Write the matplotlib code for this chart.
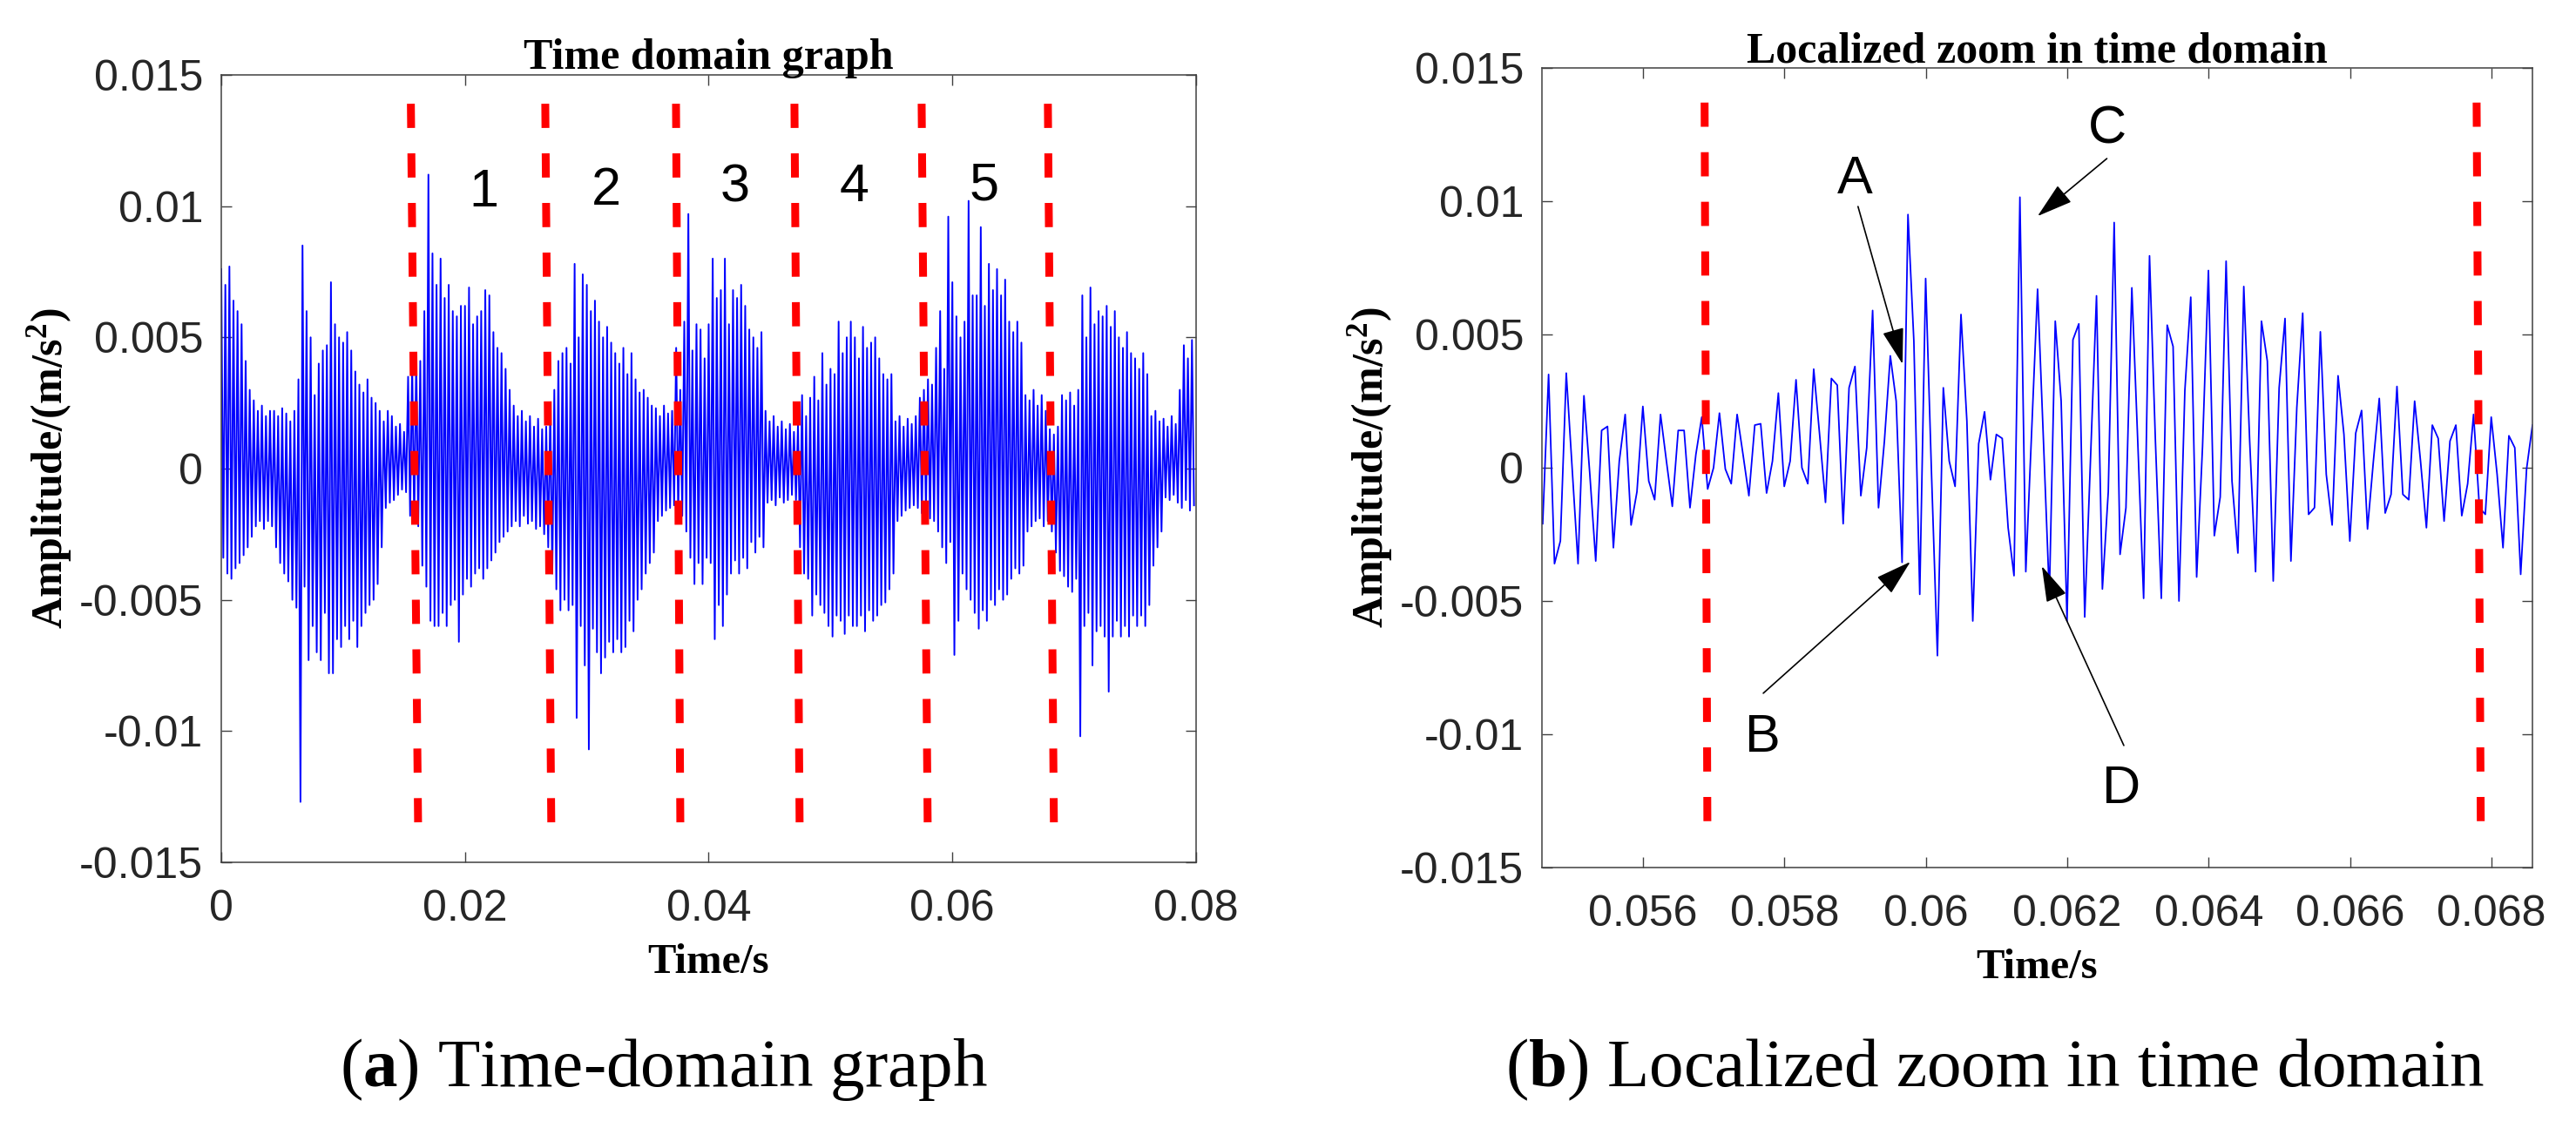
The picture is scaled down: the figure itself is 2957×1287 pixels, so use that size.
import numpy as np
import matplotlib.pyplot as plt

plt.rcParams['axes.unicode_minus'] = False
plt.rcParams['lines.scale_dashes'] = False
plt.rcParams['mathtext.fontset'] = 'custom'
plt.rcParams['mathtext.rm'] = 'Liberation Serif'
plt.rcParams['mathtext.it'] = 'Liberation Serif:italic'
plt.rcParams['mathtext.bf'] = 'Liberation Serif:bold'

# (a) full record, 0 - 0.08 s: positive / negative swing of each cycle, in 1e-3 m/s^2
full_span = 0.08
full_hi = [
    7.6, 7.0, 7.7, 6.4, 6.0, 5.5, 4.1, 3.0, 2.6, 2.2,
    2.4, 2.0, 2.2, 2.2, 2.0, 2.3, 2.1, 1.8, 2.2, 3.4,
    8.5, 6.0, 5.0, 2.8, 4.0, 4.5, 4.7, 7.1, 5.5, 5.0,
    4.8, 5.2, 4.5, 3.7, 3.2, 2.9, 3.4, 2.7, 2.5, 2.2,
    1.8, 2.2, 2.0, 1.6, 1.7, 1.4, 3.5, 4.0, 4.2, 4.1,
    6.0, 11.2, 8.2, 7.0, 8.0, 6.5, 7.0, 6.0, 5.8, 6.2,
    6.2, 6.9, 5.5, 5.8, 6.0, 6.8, 6.6, 5.2, 4.6, 4.4,
    3.8, 3.0, 2.4, 2.0, 2.2, 1.8, 2.0, 1.6, 1.9, 1.5,
    1.6, 2.2, 3.0, 4.1, 4.4, 4.6, 4.0, 7.8, 5.0, 7.4,
    7.0, 6.0, 6.4, 5.6, 5.0, 5.4, 4.8, 4.4, 4.0, 4.6,
    3.6, 4.4, 3.4, 2.9, 3.0, 2.7, 2.4, 2.3, 2.0, 2.4,
    2.1, 2.2, 4.6, 3.0, 5.6, 9.7, 4.5, 5.5, 5.3, 4.2,
    5.5, 8.0, 6.5, 6.8, 8.0, 5.5, 6.8, 6.5, 7.0, 6.2,
    5.3, 5.0, 4.6, 5.2, 2.2, 1.8, 2.0, 1.6, 1.8, 1.5,
    1.7, 1.4, 1.7, 2.8, 2.0, 2.7, 3.5, 2.6, 4.4, 3.2,
    3.8, 3.6, 5.6, 4.4, 5.0, 5.6, 5.0, 4.2, 5.4, 4.6,
    4.8, 5.0, 4.2, 3.6, 3.4, 3.6, 1.8, 2.0, 1.6, 1.9,
    1.7, 2.0, 2.7, 3.0, 3.4, 3.2, 4.6, 6.0, 3.8, 9.6,
    7.1, 5.8, 5.0, 5.6, 10.2, 6.6, 6.6, 9.2, 6.2, 7.8,
    6.8, 7.6, 6.6, 7.2, 5.6, 5.2, 5.6, 4.8, 2.8, 2.6,
    3.0, 2.4, 2.8, 2.2, 1.5, 1.3, 1.6, 2.8, 2.6, 2.9,
    2.4, 3.0, 6.6, 5.0, 6.9, 5.5, 6.0, 5.8, 6.2, 5.4,
    6.0, 5.0, 4.6, 5.2, 4.4, 4.2, 3.8, 4.4, 3.6, 2.0,
    2.2, 1.8, 1.9, 1.6, 2.0, 1.7, 3.0, 4.7, 4.2, 4.9,
]
full_lo = [
    -3.4, -4.0, -4.2, -3.8, -3.6, -3.3, -3.0, -2.6, -2.2, -2.0,
    -2.3, -2.0, -2.2, -3.0, -3.6, -4.0, -4.3, -5.0, -5.3, -12.7,
    -4.5, -7.3, -6.0, -7.0, -7.3, -5.5, -7.8, -7.8, -6.5, -6.8,
    -6.0, -6.5, -5.8, -6.8, -6.0, -5.5, -5.2, -5.0, -4.4, -3.0,
    -1.5, -1.3, -1.2, -1.0, -0.8, -0.9, -1.8, -2.0, -2.2, -3.7,
    -4.5, -5.8, -6.0, -6.0, -5.5, -6.0, -5.2, -5.0, -6.6, -4.8,
    -4.2, -4.5, -4.0, -3.8, -4.2, -3.8, -3.5, -3.2, -2.8, -2.6,
    -2.4, -2.2, -2.0, -2.2, -1.8, -2.1, -2.0, -2.3, -2.2, -2.5,
    -3.0, -4.0, -4.6, -5.4, -5.0, -5.4, -5.2, -9.5, -6.0, -7.5,
    -10.7, -6.1, -7.0, -7.8, -7.2, -6.6, -7.0, -6.5, -7.0, -6.8,
    -5.8, -6.2, -5.0, -4.6, -4.0, -3.6, -3.2, -2.0, -1.8, -1.6,
    -1.5, -1.4, -1.7, -1.8, -2.4, -3.4, -4.4, -3.6, -4.4, -3.4,
    -3.6, -6.5, -5.2, -6.0, -4.8, -4.0, -3.5, -4.0, -3.4, -3.8,
    -2.8, -3.2, -2.6, -3.0, -1.3, -1.2, -1.4, -1.1, -1.3, -1.2,
    -1.0, -1.2, -3.0, -4.0, -4.2, -5.6, -4.8, -5.2, -5.5, -6.0,
    -6.4, -5.6, -5.8, -6.3, -5.6, -6.0, -6.0, -5.6, -6.2, -5.4,
    -5.8, -5.6, -5.2, -5.1, -4.6, -4.0, -2.0, -1.8, -1.6, -1.5,
    -1.4, -1.5, -1.7, -1.6, -1.9, -2.0, -2.4, -3.0, -3.6, -2.8,
    -7.1, -5.8, -4.0, -4.6, -5.0, -5.5, -6.1, -5.4, -5.8, -5.0,
    -5.2, -4.6, -5.0, -4.8, -4.2, -3.8, -4.0, -3.7, -2.4, -2.2,
    -2.0, -1.9, -2.2, -2.0, -2.4, -3.2, -3.9, -4.1, -4.5, -4.7,
    -4.2, -10.2, -6.0, -5.5, -7.5, -6.2, -6.0, -6.4, -8.5, -6.4,
    -5.8, -6.4, -6.0, -6.4, -5.6, -6.0, -5.6, -6.0, -5.2, -3.7,
    -3.0, -2.4, -1.1, -1.2, -1.0, -1.3, -1.5, -1.2, -1.6, -1.4,
]

# (b) zoomed window, sampled at 12 kHz, in 1e-3 m/s^2
zoom_t0 = 0.05458
zoom_fs = 12000
zoom_vals = [
    -2.1, 3.5, -3.6, -2.75, 3.55, 0.0, -3.6, 2.7, -0.25, -3.5,
    1.4, 1.55, -3.0, 0.25, 2.0, -2.15, -0.9, 2.3, -0.5, -1.2,
    2.0, 0.25, -1.45, 1.4, 1.4, -1.5, 0.5, 1.9, -0.8, 0.0,
    2.05, -0.05, -0.6, 2.0, 0.5, -1.05, 1.6, 1.65, -0.95, 0.25,
    2.8, -0.7, 0.25, 3.3, 0.0, -0.6, 3.7, 1.25, -1.3, 3.35,
    3.1, -2.1, 3.0, 3.8, -1.05, 0.75, 5.9, -1.5, 1.0, 4.2,
    2.5, -3.55, 9.5, 4.75, -4.75, 7.1, -0.25, -7.05, 3.0, 0.25,
    -0.7, 5.75, 1.75, -5.75, 0.9, 2.1, -0.45, 1.25, 1.1, -2.25,
    -4.05, 10.15, -3.9, 1.4, 6.7, 1.0, -4.8, 5.5, 2.5, -5.75,
    4.8, 5.4, -5.6, 0.4, 6.45, -4.55, -0.9, 9.2, -3.25, -1.5,
    6.75, 1.0, -4.9, 7.95, 1.0, -4.9, 5.35, 4.55, -5.0, 2.9,
    6.4, -4.1, 0.8, 7.4, -2.55, -1.1, 7.75, -0.5, -3.2, 6.8,
    1.0, -3.9, 5.5, 4.0, -4.25, 3.0, 5.6, -3.5, 2.25, 5.8,
    -1.75, -1.5, 5.1, -0.25, -2.15, 3.45, 1.25, -2.75, 1.3, 2.15,
    -2.3, 0.25, 2.6, -1.7, -1.0, 3.05, -1.0, -1.2, 2.5, 0.25,
    -2.25, 1.6, 1.1, -2.0, 1.0, 1.6, -1.8, -0.6, 2.0, -1.5,
    -1.75, 1.9, -0.25, -3.0, 1.2, 0.75, -4.0, -0.05, 1.6,
]

# red dashed separators (x at top end, x at bottom end)
cut_top = [0.01556, 0.02659, 0.03732, 0.04704, 0.05748, 0.06784]
cut_bot = [0.01616, 0.02709, 0.03768, 0.04747, 0.05798, 0.06834]
cut_ylim = (-0.0139, 0.0139)
seg_labels = ['1', '2', '3', '4', '5']
seg_x = [0.02152, 0.03160, 0.04218, 0.05198, 0.06263]
seg_y = [0.00998, 0.01005, 0.01018, 0.01018, 0.01025]

zoom_cut_top = [0.05687, 0.06779]
zoom_cut_bot = [0.05691, 0.06785]
zoom_cut_ylim = (-0.0139, 0.0137)

marks = ['A', 'B', 'C', 'D']
mark_x = [0.05900, 0.05769, 0.06256, 0.06277]
mark_y = [0.01029, -0.01065, 0.01216, -0.01258]
tail_x = [0.05904, 0.05770, 0.06256, 0.06280]
tail_y = [0.00980, -0.00846, 0.01160, -0.01042]
head_x = [0.05967, 0.05978, 0.06158, 0.06164]
head_y = [0.00389, -0.00353, 0.00944, -0.00369]

y_ticks = [-0.015, -0.01, -0.005, 0, 0.005, 0.01, 0.015]
y_ticklabels = ['-0.015', '-0.01', '-0.005', '0', '0.005', '0.01', '0.015']
full_xticks = [0, 0.02, 0.04, 0.06, 0.08]
full_xticklabels = ['0', '0.02', '0.04', '0.06', '0.08']
zoom_xticks = [0.056, 0.058, 0.060, 0.062, 0.064, 0.066, 0.068]
zoom_xticklabels = ['0.056', '0.058', '0.06', '0.062', '0.064', '0.066', '0.068']

SANS = 'Liberation Sans'
SERIF = 'Liberation Serif'
AX_COL = '#404040'


def style_axes(ax, title, xticks, xticklabels):
    ax.set_ylim(-0.015, 0.015)
    ax.set_yticks(y_ticks)
    ax.set_yticklabels(y_ticklabels, fontfamily=SANS, fontsize=36, color='#262626')
    ax.set_xticks(xticks)
    ax.set_xticklabels(xticklabels, fontfamily=SANS, fontsize=36, color='#262626')
    ax.tick_params(direction='in', top=True, right=True, length=8.5, width=1.0,
                   color=AX_COL)
    ax.tick_params(axis='y', pad=15)
    ax.tick_params(axis='x', pad=22)
    for sp in ax.spines.values():
        sp.set_color(AX_COL)
        sp.set_linewidth(1.1)
    ax.set_title(title, fontfamily=SERIF, fontweight='bold', fontsize=36, pad=5)
    ax.set_xlabel('Time/s', fontfamily=SERIF, fontweight='bold', fontsize=35,
                  labelpad=12)
    ax.set_ylabel(r'Amplitude/(m/s$^{\mathbf{2}}$)', fontfamily=SERIF,
                  fontweight='bold', fontsize=36, labelpad=4)


fig = plt.figure(figsize=(29.57, 12.87), dpi=100)
ax1 = fig.add_axes([0.0859, 0.2308, 0.3784, 0.7024])
ax2 = fig.add_axes([0.5986, 0.2261, 0.3845, 0.7133])

# (a) full signal
n = len(full_hi)
step = full_span / n
k = np.arange(n)
t_full = np.empty(2 * n)
a_full = np.empty(2 * n)
t_full[0::2] = k * step
t_full[1::2] = (k + 0.5) * step
a_full[0::2] = np.array(full_hi) * 1e-3
a_full[1::2] = np.array(full_lo) * 1e-3
ax1.plot(t_full, a_full, color='#0000ff', lw=1.4)
for xt, xb in zip(cut_top, cut_bot):
    ax1.plot([xt, xb], [cut_ylim[1], cut_ylim[0]], color='red', lw=6.5,
             dashes=(20, 21))
for lab, x, y in zip(seg_labels, seg_x, seg_y):
    ax1.text(x, y, lab, fontfamily=SANS, fontsize=44, ha='center', va='baseline')
ax1.set_xlim(0, full_span)
style_axes(ax1, 'Time domain graph', full_xticks, full_xticklabels)

# (b) localized zoom
t_zoom = zoom_t0 + np.arange(len(zoom_vals)) / zoom_fs
ax2.plot(t_zoom, np.array(zoom_vals) * 1e-3, color='#0000ff', lw=1.3)
for xt, xb in zip(zoom_cut_top, zoom_cut_bot):
    ax2.plot([xt, xb], [zoom_cut_ylim[1], zoom_cut_ylim[0]], color='red', lw=6.5,
             dashes=(20, 21))
for i, lab in enumerate(marks):
    ax2.text(mark_x[i], mark_y[i], lab, fontfamily=SANS, fontsize=44,
             ha='center', va='baseline')
    ax2.annotate('', xy=(head_x[i], head_y[i]), xytext=(tail_x[i], tail_y[i]),
                 arrowprops=dict(arrowstyle='-|>,head_length=1.0,head_width=0.3',
                                 color='black', lw=1.2, shrinkA=0, shrinkB=0,
                                 mutation_scale=26))
ax2.set_xlim(0.05457, 0.06858)
style_axes(ax2, 'Localized zoom in time domain', zoom_xticks, zoom_xticklabels)

fig.text(0.2577, 0.0311, r'($\mathbf{a}$) Time-domain graph', fontfamily=SERIF,
         fontsize=57, ha='center', va='baseline')
fig.text(0.7744, 0.0311, r'($\mathbf{b}$) Localized zoom in time domain',
         fontfamily=SERIF, fontsize=57, ha='center', va='baseline')

fig.savefig('out.png', dpi=100)
